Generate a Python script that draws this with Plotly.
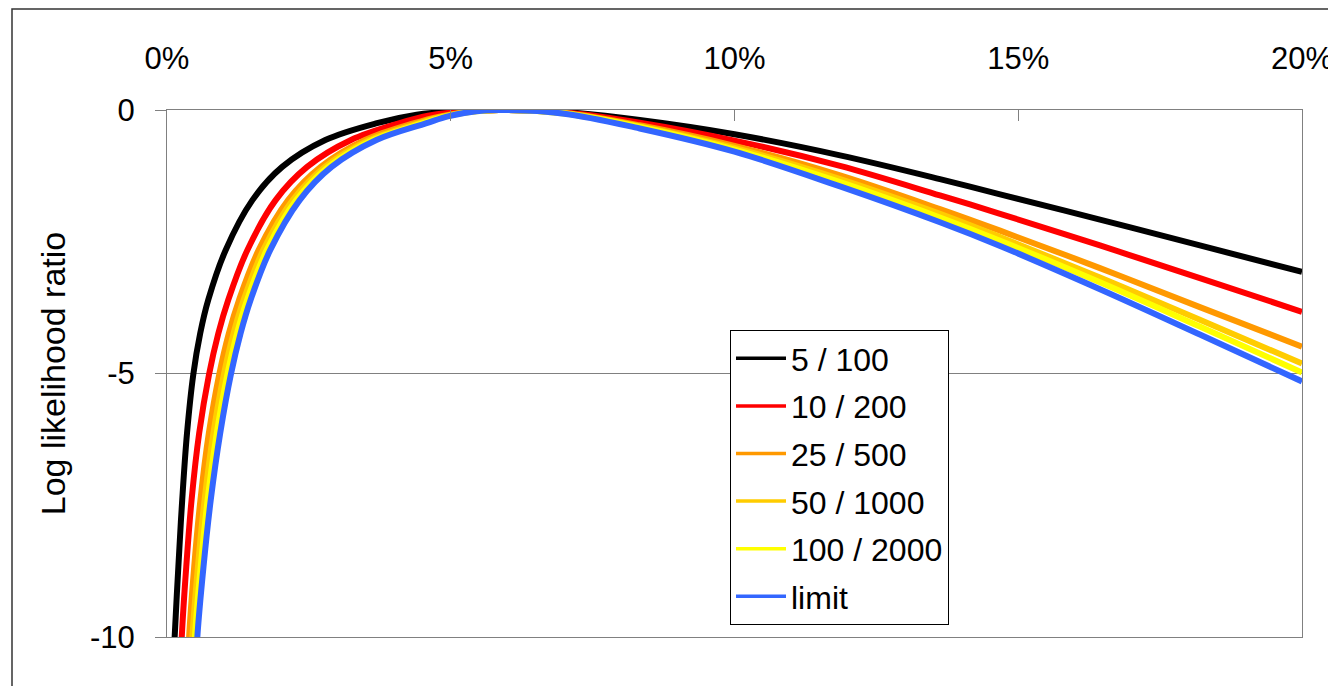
import plotly.graph_objects as go

series_names = ["5 / 100", "10 / 200", "25 / 500", "50 / 1000", "100 / 2000", "limit"]
series_colors = ["#000000", "#FF0000", "#FF9900", "#FFCC00", "#FFFF00", "#3366FF"]

# Left (steep) branch: y levels shared, x (in %) read per series
left_y = [-10.8, -10.0, -8.67, -7.4, -6.13, -5.02, -4.24, -3.6, -2.66, -1.71, -1.08, -0.57, -0.25]
left_x_black = [0.11, 0.135, 0.20, 0.268, 0.353, 0.463, 0.585, 0.728, 1.033, 1.505, 2.03, 2.79, 3.70]
left_x_red = [0.235, 0.26, 0.339, 0.433, 0.567, 0.740, 0.904, 1.080, 1.415, 1.914, 2.469, 3.242, 4.10]
left_x_orange = [0.363, 0.39, 0.479, 0.589, 0.738, 0.920, 1.089, 1.271, 1.614, 2.134, 2.709, 3.489, 4.358]
left_x_gold = [0.42, 0.448, 0.545, 0.662, 0.818, 1.002, 1.172, 1.352, 1.696, 2.216, 2.785, 3.569, 4.445]
left_x_yellow = [0.462, 0.492, 0.594, 0.716, 0.878, 1.064, 1.234, 1.413, 1.757, 2.277, 2.843, 3.63, 4.51]
left_x_blue = [0.505, 0.535, 0.643, 0.771, 0.938, 1.125, 1.296, 1.474, 1.818, 2.338, 2.90, 3.69, 4.575]

# Around the maximum (0 at about 5.85 %)
peak_x_black = [4.4, 5.0, 5.85, 7.0]
peak_x_red = [4.6, 5.2, 5.85, 7.0]
peak_x_orange = [4.8, 5.35, 5.85, 7.0]
peak_x_gold = [4.85, 5.4, 5.85, 7.0]
peak_x_yellow = [4.9, 5.4, 5.85, 7.0]
peak_x_blue = [4.95, 5.45, 5.85, 7.0]
peak_y_black = [-0.09, -0.03, 0.0, -0.038]
peak_y_red = [-0.11, -0.03, 0.0, -0.045]
peak_y_orange = [-0.125, -0.028, 0.0, -0.055]
peak_y_gold = [-0.127, -0.026, 0.0, -0.06]
peak_y_yellow = [-0.125, -0.031, 0.0, -0.065]
peak_y_blue = [-0.12, -0.023, 0.0, -0.07]

# Right branch: x (in %) shared, y read per series
right_x = [8.33, 10.0, 11.86, 13.62, 14.68, 16.44, 18.2, 20.0]
right_y_black = [-0.19, -0.46, -0.86, -1.31, -1.60, -2.08, -2.57, -3.07]
right_y_red = [-0.24, -0.58, -1.06, -1.62, -1.97, -2.57, -3.19, -3.83]
right_y_orange = [-0.29, -0.68, -1.24, -1.88, -2.29, -3.00, -3.74, -4.49]
right_y_gold = [-0.31, -0.72, -1.31, -1.97, -2.41, -3.18, -3.98, -4.81]
right_y_yellow = [-0.32, -0.75, -1.37, -2.04, -2.48, -3.27, -4.11, -4.98]
right_y_blue = [-0.35, -0.79, -1.45, -2.13, -2.58, -3.40, -4.26, -5.15]

x_tick_vals = [0, 5, 10, 15, 20]
x_tick_text = ["0%", "5%", "10%", "15%", "20%"]
y_tick_vals = [0, -5, -10]
y_tick_text = ["0", "-5", "-10"]

lefts = [left_x_black, left_x_red, left_x_orange, left_x_gold, left_x_yellow, left_x_blue]
peaks_x = [peak_x_black, peak_x_red, peak_x_orange, peak_x_gold, peak_x_yellow, peak_x_blue]
peaks_y = [peak_y_black, peak_y_red, peak_y_orange, peak_y_gold, peak_y_yellow, peak_y_blue]
rights = [right_y_black, right_y_red, right_y_orange, right_y_gold, right_y_yellow, right_y_blue]

FONT = "Liberation Sans, Arial, sans-serif"
fig = go.Figure()
for i, name in enumerate(series_names):
    xs = lefts[i] + peaks_x[i] + right_x
    ys = left_y + peaks_y[i] + rights[i]
    fig.add_trace(go.Scatter(
        x=xs, y=ys, mode="lines", name=name, legendgroup=name, showlegend=False,
        line=dict(color=series_colors[i], width=6, shape="spline", smoothing=1.0),
        hoverinfo="skip",
    ))
# legend entries (thinner sample lines, as in the reference legend)
for i, name in enumerate(series_names):
    fig.add_trace(go.Scatter(
        x=[None], y=[None], mode="lines", name=name, legendgroup=name, showlegend=True,
        line=dict(color=series_colors[i], width=3.5),
    ))

fig.update_layout(
    width=1328, height=686,
    margin=dict(l=167, r=26, t=110, b=49, autoexpand=False),
    paper_bgcolor="white", plot_bgcolor="white",
    font=dict(family=FONT, size=31, color="black"),
    showlegend=True,
    legend=dict(
        x=(730 - 167) / 1135, y=(637 - 330) / 527, xanchor="left", yanchor="top",
        bordercolor="black", borderwidth=1, bgcolor="white",
        font=dict(family=FONT, size=32, color="black"),
        tracegroupgap=3, itemwidth=50,
        entrywidth=165, entrywidthmode="pixels",
    ),
    xaxis=dict(
        range=[0, 20], side="top", tickvals=x_tick_vals, ticktext=x_tick_text,
        showgrid=False, zeroline=False, showline=True, linecolor="#808080", linewidth=1,
        mirror=True, ticks="inside", ticklen=11, tickcolor="#808080",
        ticklabelstandoff=28, ticklabeloverflow="allow", automargin=False,
    ),
    yaxis=dict(
        range=[-10, 0], tickvals=y_tick_vals, ticktext=y_tick_text,
        showgrid=True, gridcolor="#808080", gridwidth=1, zeroline=False,
        showline=True, linecolor="#808080", linewidth=1, mirror=True,
        ticks="outside", ticklen=11, tickcolor="#808080", ticklabelstandoff=14,
        automargin=False,
        title=dict(text="Log likelihood ratio", font=dict(family=FONT, size=34), standoff=14),
    ),
    shapes=[dict(
        type="rect", xref="paper", yref="paper",
        x0=(12 - 167) / 1135, x1=1.3, y0=-0.3, y1=(637 - 9) / 527,
        line=dict(color="#333333", width=1.5), fillcolor="rgba(0,0,0,0)", layer="below",
    )],
)

fig.write_html("out.html")
